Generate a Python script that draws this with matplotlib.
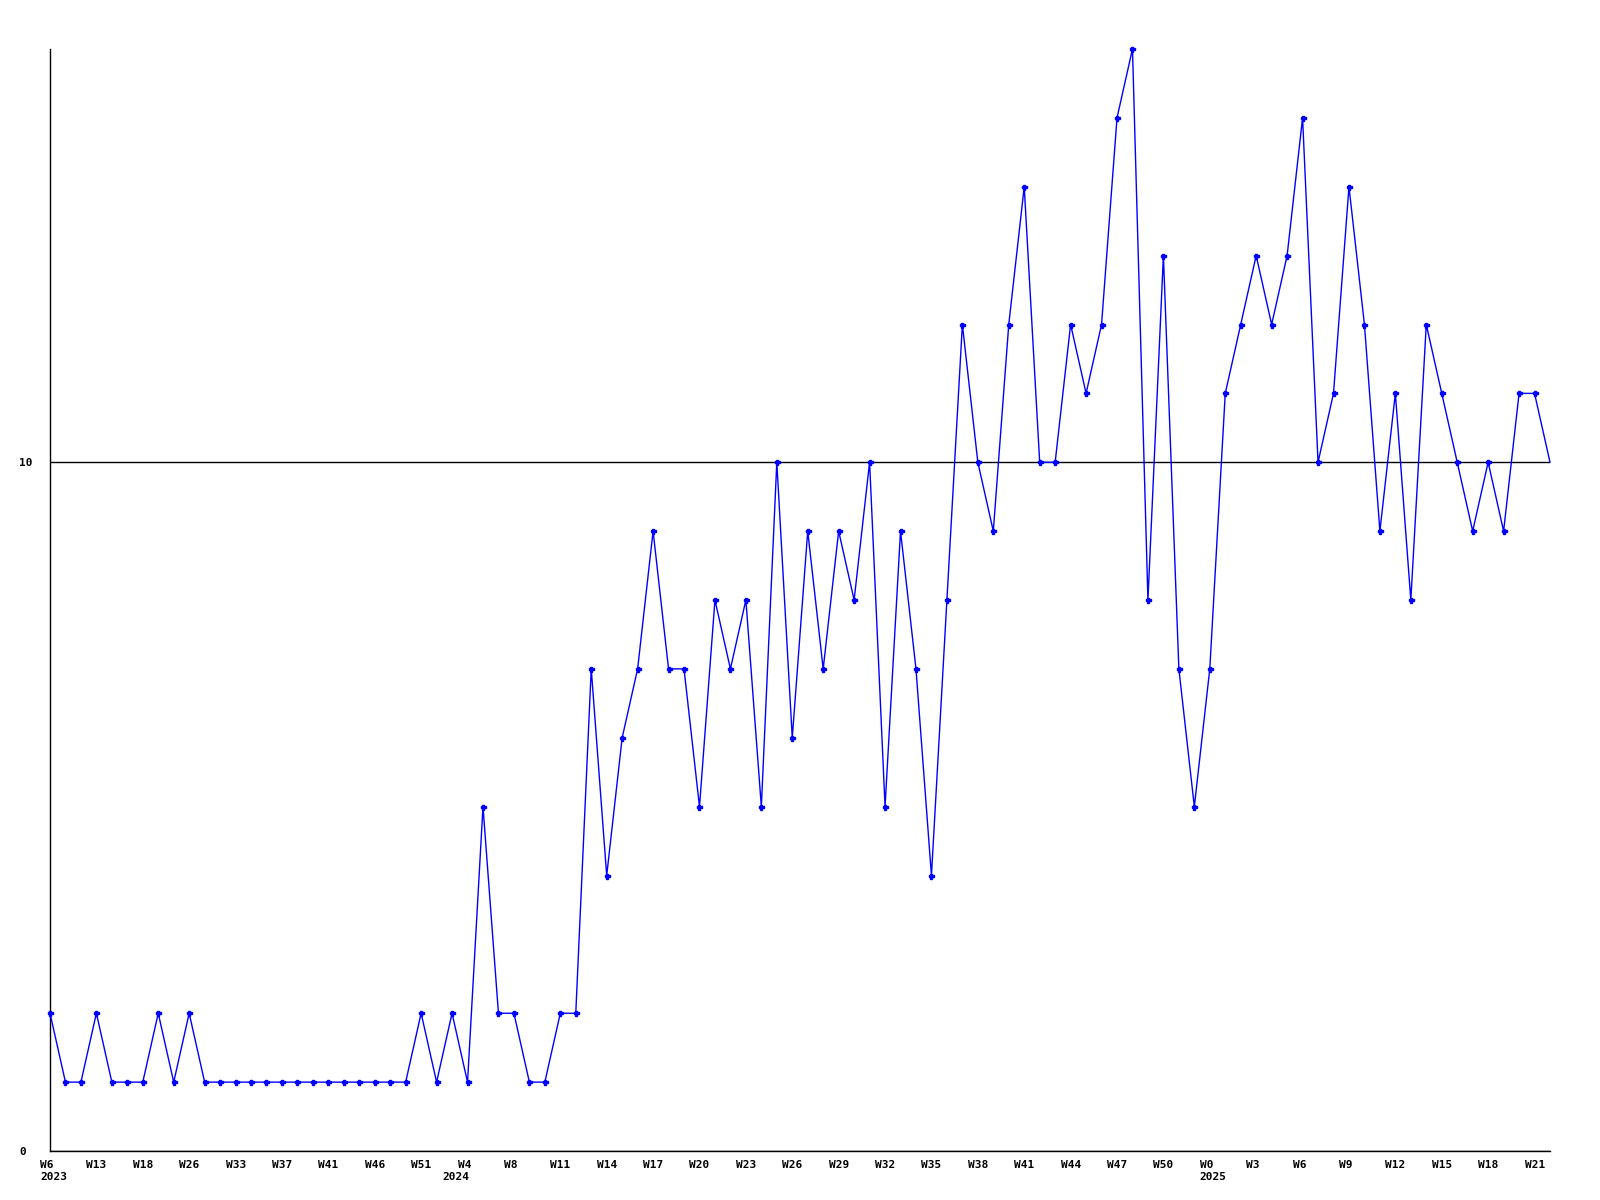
import matplotlib
matplotlib.use("Agg")
import matplotlib.pyplot as plt
from matplotlib.transforms import ScaledTranslation

values = [2, 1, 1, 2, 1, 1, 1, 2, 1, 2,
          1, 1, 1, 1, 1, 1, 1, 1, 1, 1,
          1, 1, 1, 1, 2, 1, 2, 1, 5, 2,
          2, 1, 1, 2, 2, 7, 4, 6, 7, 9,
          7, 7, 5, 8, 7, 8, 5, 10, 6, 9,
          7, 9, 8, 10, 5, 9, 7, 4, 8, 12,
          10, 9, 12, 14, 10, 10, 12, 11, 12, 15,
          16, 8, 13, 7, 5, 7, 11, 12, 13, 12,
          13, 15, 10, 11, 14, 12, 9, 11, 8, 12,
          11, 10, 9, 10, 9, 11, 11, 10]

tick_labels = ["W6", "W13", "W18", "W26", "W33", "W37", "W41", "W46", "W51",
               "W4", "W8", "W11", "W14", "W17", "W20", "W23", "W26", "W29",
               "W32", "W35", "W38", "W41", "W44", "W47", "W50",
               "W0", "W3", "W6", "W9", "W12", "W15", "W18", "W21"]
year_labels = ["2023", "2024", "2025"]
year_positions = [0, 26, 75]
y_ticks = [0, 10]

plt.rcParams['font.family'] = ['DejaVu Sans Mono']
plt.rcParams['font.weight'] = 'bold'

fig = plt.figure(figsize=(16, 12), dpi=100)
ax = fig.add_axes([50/1600, 49/1200, 1500/1600, 1102/1200])
ax.xaxis.remove_overlapping_locs = False

x = list(range(len(values)))
ax.plot(x, values, color='#0000ff', lw=1.0, marker='P', markersize=3.6,
        markevery=list(range(len(values) - 1)), clip_on=False, zorder=3)

ax.set_xlim(0, len(values) - 1)
ax.set_ylim(0, 16)

ax.set_xticks(list(range(0, len(values), 3)))
ax.set_xticklabels(tick_labels, fontsize=8, fontweight='bold')
ax.set_xticks(year_positions, minor=True)
ax.set_xticklabels(year_labels, minor=True, fontsize=8, fontweight='bold')
ax.set_yticks(y_ticks)
ax.set_yticklabels([str(v) for v in y_ticks], fontsize=8, fontweight='bold')

ax.tick_params(axis='x', which='major', length=0, pad=6.5)
ax.tick_params(axis='x', which='minor', length=0, pad=15.2)
ax.tick_params(axis='y', length=0, pad=22)
off = ScaledTranslation(-10/100, 0, fig.dpi_scale_trans)
for lbl in ax.get_xticklabels() + ax.get_xticklabels(minor=True):
    lbl.set_ha('left')
    lbl.set_va('top')
    lbl.set_transform(lbl.get_transform() + off)
for lbl in ax.get_yticklabels():
    lbl.set_ha('left')

ax.yaxis.grid(True, color='black', lw=1.0)
ax.xaxis.grid(False, which='both')
ax.set_axisbelow(True)

for s in ['top', 'right']:
    ax.spines[s].set_visible(False)
for s in ['left', 'bottom']:
    ax.spines[s].set_color('black')
    ax.spines[s].set_linewidth(1.0)

fig.savefig('out.png', dpi=100)
